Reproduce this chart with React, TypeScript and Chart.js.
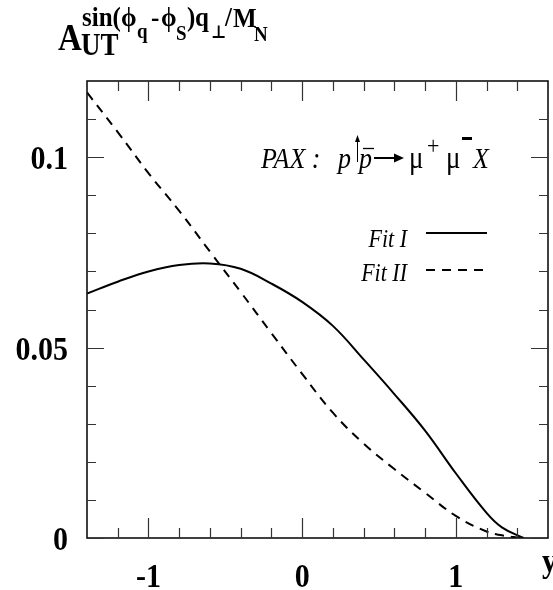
import React, { useEffect, useRef } from "react";
import { Chart, registerables } from "chart.js";

Chart.register(...registerables);

// Rapidity grid and asymmetry values for the two fits
const fit1Rapidity = [-1.4, -1.2, -1.0, -0.8, -0.6, -0.4, -0.2, 0.0, 0.2, 0.4, 0.6, 0.8, 1.0, 1.2, 1.3, 1.44];
const fit1Values = [0.0642, 0.0673, 0.07, 0.0717, 0.0721, 0.0707, 0.0668, 0.062, 0.0557, 0.0469, 0.0378, 0.0282, 0.017, 0.0066, 0.0028, 0.0];

const fit2Rapidity = [-1.4, -1.2, -1.0, -0.8, -0.6, -0.4, -0.2, 0.0, 0.2, 0.4, 0.6, 0.8, 1.0, 1.2, 1.3, 1.42];
const fit2Values = [0.117, 0.1066, 0.0958, 0.0859, 0.0752, 0.0646, 0.0538, 0.0431, 0.0329, 0.0248, 0.0181, 0.0119, 0.0058, 0.0017, 0.0007, 0.0];

const seriesNames = ["Fit I", "Fit II"];

// Axis ranges and ticks
const xRange = [-1.4, 1.6];
const yRange = [0, 0.12];
const xMajorTicks = [-1, 0, 1];
const xTickLabels = ["-1", "0", "1"];
const xMinorTicks = [-1.2, -0.8, -0.6, -0.4, -0.2, 0.2, 0.4, 0.6, 0.8, 1.2, 1.4];
const yMajorTicks = [0, 0.05, 0.1];
const yTickLabels = ["0", "0.05", "0.1"];
const yMinorTicks = [0.01, 0.02, 0.03, 0.04, 0.06, 0.07, 0.08, 0.09, 0.11];

const SERIF = '"Liberation Serif", "Times New Roman", "DejaVu Serif", serif';
const SY = 1.13; // glyphs in this figure are slightly taller than wide

function txt(
  ctx: CanvasRenderingContext2D,
  s: string,
  x: number,
  y: number,
  font: string,
  align: CanvasTextAlign = "left",
  baseline: CanvasTextBaseline = "alphabetic"
) {
  ctx.save();
  ctx.translate(x, y);
  ctx.scale(1, SY);
  ctx.font = font;
  ctx.textAlign = align;
  ctx.textBaseline = baseline;
  ctx.fillStyle = "#000";
  ctx.fillText(s, 0, 0);
  ctx.restore();
}

const framePlugin = {
  id: "physicsFrame",
  afterDraw(chart: any) {
    const ctx: CanvasRenderingContext2D = chart.ctx;
    const { left, right, top, bottom } = chart.chartArea;
    const xs = chart.scales.x;
    const ys = chart.scales.y;

    ctx.save();
    // frame
    ctx.strokeStyle = "#111";
    ctx.lineWidth = 1.6;
    ctx.strokeRect(left, top, right - left, bottom - top);

    // inward ticks on all four sides
    ctx.strokeStyle = "#333";
    ctx.lineWidth = 1.2;
    const tickX = (v: number, len: number) => {
      const px = Math.round(xs.getPixelForValue(v)) + 0.5;
      ctx.beginPath();
      ctx.moveTo(px, bottom);
      ctx.lineTo(px, bottom - len);
      ctx.moveTo(px, top);
      ctx.lineTo(px, top + len);
      ctx.stroke();
    };
    const tickY = (v: number, len: number) => {
      const py = Math.round(ys.getPixelForValue(v)) + 0.5;
      ctx.beginPath();
      ctx.moveTo(left, py);
      ctx.lineTo(left + len, py);
      ctx.moveTo(right, py);
      ctx.lineTo(right - len, py);
      ctx.stroke();
    };
    xMajorTicks.forEach((v) => tickX(v, 20));
    xMinorTicks.forEach((v) => tickX(v, 10));
    yMajorTicks.forEach((v) => tickY(v, 17));
    yMinorTicks.forEach((v) => tickY(v, 9));

    // tick labels
    const tickFont = `bold 30px ${SERIF}`;
    xMajorTicks.forEach((v, i) => {
      txt(ctx, xTickLabels[i], xs.getPixelForValue(v), 587, tickFont, "center");
    });
    yMajorTicks.forEach((v, i) => {
      txt(ctx, yTickLabels[i], 68, ys.getPixelForValue(v) + 12, tickFont, "right");
    });
    txt(ctx, "y", 542, 572, tickFont, "left");

    // axis title
    const big = (s: number) => `bold ${s}px ${SERIF}`;
    txt(ctx, "A", 58, 50, big(33));
    txt(ctx, "UT", 81, 55, big(27));
    txt(ctx, "sin(", 82, 26, big(25));
    txt(ctx, "\u03D5", 121, 26, big(25));
    txt(ctx, "q", 137, 38, big(19));
    txt(ctx, "-", 151, 26, big(25));
    txt(ctx, "\u03D5", 161, 26, big(25));
    txt(ctx, "S", 176, 40, big(19));
    txt(ctx, ")", 187, 26, big(25));
    txt(ctx, "q", 195, 26, big(25));
    txt(ctx, "\u22A5", 211, 38, big(16));
    txt(ctx, "/", 225, 26, big(25));
    txt(ctx, "M", 233, 27, big(25));
    txt(ctx, "N", 254, 41, big(19));

    // process annotation
    const it = (s: number) => `italic ${s}px ${SERIF}`;
    const rm = (s: number) => `${s}px ${SERIF}`;
    txt(ctx, "PAX :", 261, 168, it(26));
    txt(ctx, "p", 338, 168, it(26));
    // polarisation arrow over the proton
    ctx.strokeStyle = "#000";
    ctx.fillStyle = "#000";
    ctx.lineWidth = 1;
    ctx.beginPath();
    ctx.moveTo(357.5, 162);
    ctx.lineTo(357.5, 139);
    ctx.stroke();
    ctx.beginPath();
    ctx.moveTo(357.5, 135);
    ctx.lineTo(355, 142);
    ctx.lineTo(360, 142);
    ctx.closePath();
    ctx.fill();
    txt(ctx, "p", 359, 168, it(26));
    ctx.lineWidth = 1.3;
    ctx.beginPath();
    ctx.moveTo(363, 148.5);
    ctx.lineTo(374, 148.5);
    ctx.stroke();
    // reaction arrow
    ctx.lineWidth = 2;
    ctx.beginPath();
    ctx.moveTo(374, 158);
    ctx.lineTo(396, 158);
    ctx.stroke();
    ctx.beginPath();
    ctx.moveTo(404, 158);
    ctx.lineTo(394, 153.5);
    ctx.lineTo(394, 162.5);
    ctx.closePath();
    ctx.fill();
    txt(ctx, "\u03BC", 409, 168, rm(27));
    txt(ctx, "+", 427, 154, rm(22));
    txt(ctx, "\u03BC", 446, 168, rm(27));
    ctx.fillRect(462, 137, 10, 3);
    txt(ctx, "X", 473, 168, it(26));

    // legend
    const legFont = it(22);
    txt(ctx, seriesNames[0], 407, 247, legFont, "right");
    txt(ctx, seriesNames[1], 407, 281, legFont, "right");
    ctx.lineWidth = 2;
    ctx.setLineDash([]);
    ctx.beginPath();
    ctx.moveTo(426, 233);
    ctx.lineTo(487, 233);
    ctx.stroke();
    ctx.setLineDash([9, 7]);
    ctx.beginPath();
    ctx.moveTo(426, 270);
    ctx.lineTo(487, 270);
    ctx.stroke();
    ctx.restore();
  },
};

export default function App() {
  const canvasRef = useRef<HTMLCanvasElement | null>(null);

  useEffect(() => {
    const canvas = canvasRef.current;
    if (!canvas) return;
    const chart = new Chart(canvas, {
      type: "line",
      data: {
        datasets: [
          {
            label: seriesNames[0],
            data: fit1Rapidity.map((x, i) => ({ x, y: fit1Values[i] })),
            borderColor: "#000",
            borderWidth: 2,
            pointRadius: 0,
            tension: 0.4,
            fill: false,
          },
          {
            label: seriesNames[1],
            data: fit2Rapidity.map((x, i) => ({ x, y: fit2Values[i] })),
            borderColor: "#000",
            borderWidth: 2,
            borderDash: [9, 7],
            pointRadius: 0,
            tension: 0.4,
            fill: false,
          },
        ],
      },
      options: {
        animation: false,
        responsive: false,
        devicePixelRatio: 1,
        layout: { padding: { left: 87, right: 5, top: 81, bottom: 52 } },
        plugins: { legend: { display: false }, tooltip: { enabled: false } },
        scales: {
          x: { type: "linear", min: xRange[0], max: xRange[1], display: false },
          y: { type: "linear", min: yRange[0], max: yRange[1], display: false },
        },
      },
      plugins: [framePlugin],
    });
    return () => chart.destroy();
  }, []);

  return (
    <div style={{ position: "absolute", left: 0, top: 0, width: 553, height: 590, background: "#fff" }}>
      <canvas ref={canvasRef} width={553} height={590} />
    </div>
  );
}
